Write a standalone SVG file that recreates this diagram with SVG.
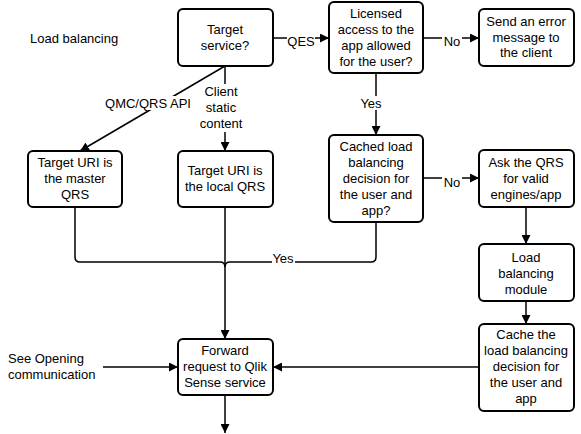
<svg xmlns="http://www.w3.org/2000/svg" width="581" height="434" viewBox="0 0 581 434">
<style>
.box{fill:#fff;stroke:#000;stroke-width:2}
.t{font-family:"Liberation Sans",Arial,sans-serif;font-size:13px;fill:#000;text-anchor:middle}
.l{font-family:"Liberation Sans",Arial,sans-serif;font-size:13px;fill:#000}
.c{fill:none;stroke:#000;stroke-width:1.5}
.bg{fill:#fff}
</style>
<defs>
<marker id="a" viewBox="0 0 10 10" refX="10" refY="5" markerWidth="9" markerHeight="9" markerUnits="userSpaceOnUse" orient="auto">
<path d="M0,0 L10,5 L0,10 z" fill="#000"/>
</marker>
</defs>
<rect width="581" height="434" fill="#fff"/>
<text class="l" x="30" y="43">Load balancing</text>
<g id="connectors">
<path class="c" d="M273,38 H329" marker-end="url(#a)"/>
<path class="c" d="M423,38 H479" marker-end="url(#a)"/>
<path class="c" d="M376,73 V135" marker-end="url(#a)"/>
<path class="c" d="M423,178 H479" marker-end="url(#a)"/>
<path class="c" d="M225,66 L80,151" marker-end="url(#a)"/>
<path class="c" d="M225,66 V151" marker-end="url(#a)"/>
<path class="c" d="M75,207 V257 Q75,262 80,262 H220 Q225,262 225,267"/>
<path class="c" d="M376,222 V257 Q376,262 371,262 H230 Q225,262 225,267"/>
<path class="c" d="M225,207 V339" marker-end="url(#a)"/>
<path class="c" d="M103,367 H178" marker-end="url(#a)"/>
<path class="c" d="M479,367 H273" marker-end="url(#a)"/>
<path class="c" d="M225,395 V433" marker-end="url(#a)"/>
<path class="c" d="M526,207 V244" marker-end="url(#a)"/>
<path class="c" d="M526,301 V324" marker-end="url(#a)"/>
<rect class="bg" x="287" y="32" width="28" height="14"/>
<text class="t" x="301" y="46">QES</text>
<rect class="bg" x="442" y="32" width="20" height="14"/>
<text class="t" x="452" y="46">No</text>
<rect class="bg" x="359" y="96" width="24" height="14"/>
<text class="t" x="371" y="108">Yes</text>
<rect class="bg" x="442" y="172" width="20" height="14"/>
<text class="t" x="452" y="187">No</text>
<rect class="bg" x="272" y="252" width="23" height="13"/>
<text class="t" x="283" y="263">Yes</text>
<rect class="bg" x="104" y="96" width="88" height="14"/>
<text class="t" x="148" y="108">QMC/QRS API</text>
<rect class="bg" x="198" y="84" width="46" height="48"/>
<text class="t" x="221" y="96">Client</text>
<text class="t" x="221" y="112">static</text>
<text class="t" x="221" y="128">content</text>
<text class="l" x="8" y="363">See Opening</text>
<text class="l" x="8" y="379">communication</text>
</g>
<g id="target-service">
<rect class="box" x="178" y="9" width="95" height="57" rx="5"/>
<text class="t" x="225" y="34">Target</text>
<text class="t" x="225" y="50">service?</text>
</g>
<g id="master">
<rect class="box" x="28" y="151" width="94" height="56" rx="5"/>
<text class="t" x="75" y="167">Target URI is</text>
<text class="t" x="75" y="183">the master</text>
<text class="t" x="75" y="199">QRS</text>
</g>
<g id="local">
<rect class="box" x="178" y="151" width="95" height="56" rx="5"/>
<text class="t" x="225" y="175">Target URI is</text>
<text class="t" x="225" y="191">the local QRS</text>
</g>
<g id="licensed">
<rect class="box" x="329" y="2" width="94" height="71" rx="5"/>
<text class="t" x="376" y="18">Licensed</text>
<text class="t" x="376" y="34">access to the</text>
<text class="t" x="376" y="50">app allowed</text>
<text class="t" x="376" y="66">for the user?</text>
</g>
<g id="error">
<rect class="box" x="479" y="9" width="95" height="57" rx="5"/>
<text class="t" x="526" y="26">Send an error</text>
<text class="t" x="526" y="42">message to</text>
<text class="t" x="526" y="57">the client</text>
</g>
<g id="cached">
<rect class="box" x="329" y="135" width="94" height="87" rx="5"/>
<text class="t" x="376" y="151">Cached load</text>
<text class="t" x="376" y="167">balancing</text>
<text class="t" x="376" y="183">decision for</text>
<text class="t" x="376" y="199">the user and</text>
<text class="t" x="376" y="215">app?</text>
</g>
<g id="ask">
<rect class="box" x="479" y="150" width="95" height="57" rx="5"/>
<text class="t" x="526" y="167">Ask the QRS</text>
<text class="t" x="526" y="183">for valid</text>
<text class="t" x="526" y="199">engines/app</text>
</g>
<g id="module">
<rect class="box" x="479" y="244" width="95" height="57" rx="5"/>
<text class="t" x="526" y="262">Load</text>
<text class="t" x="526" y="278">balancing</text>
<text class="t" x="526" y="294">module</text>
</g>
<g id="cache">
<rect class="box" x="479" y="324" width="95" height="87" rx="5"/>
<text class="t" x="526" y="339">Cache the</text>
<text class="t" x="526" y="355">load balancing</text>
<text class="t" x="526" y="371">decision for</text>
<text class="t" x="526" y="387">the user and</text>
<text class="t" x="526" y="403">app</text>
</g>
<g id="forward">
<rect class="box" x="178" y="339" width="95" height="56" rx="5"/>
<text class="t" x="225" y="355">Forward</text>
<text class="t" x="225" y="371">request to Qlik</text>
<text class="t" x="225" y="387">Sense service</text>
</g>
</svg>
